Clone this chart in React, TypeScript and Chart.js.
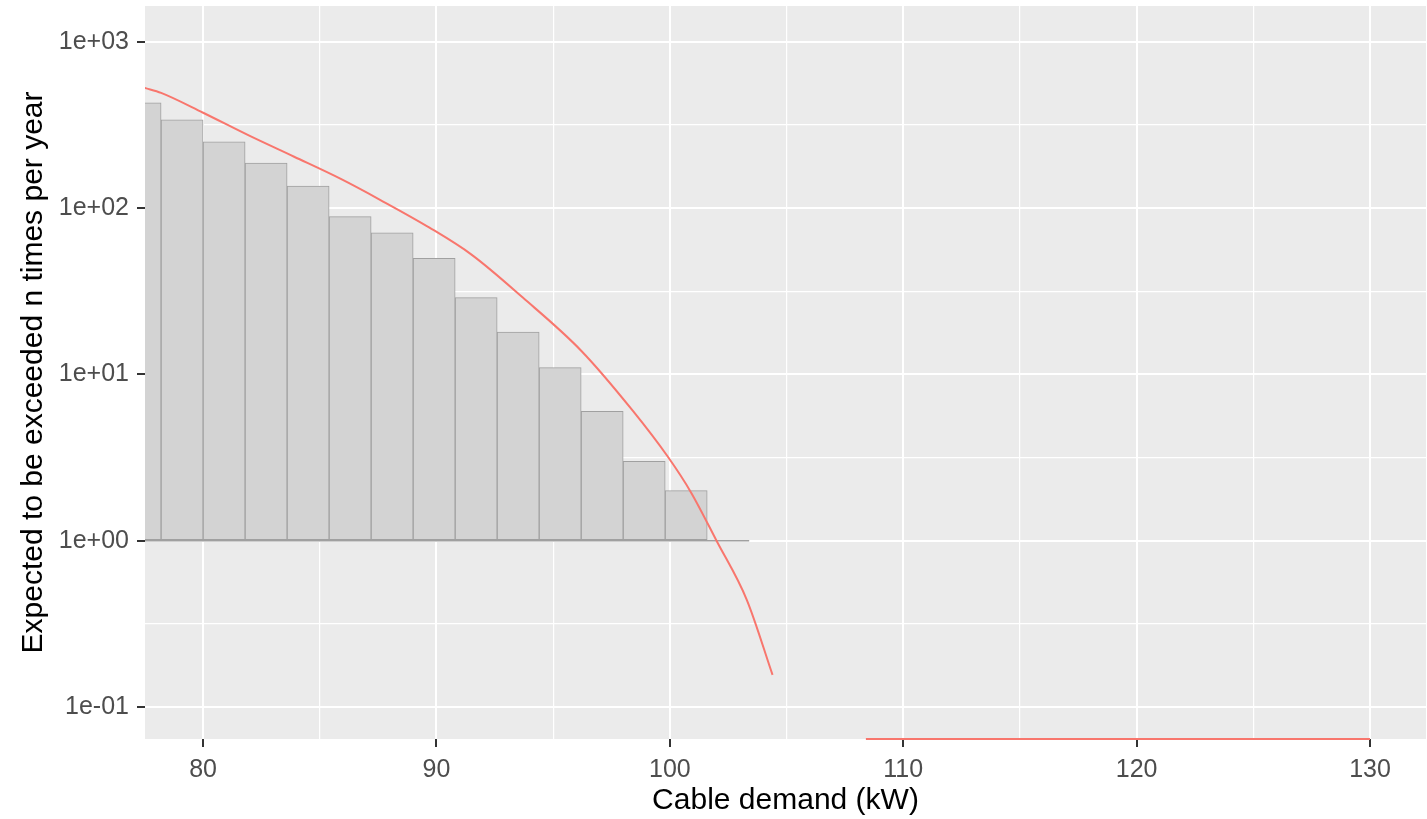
import React, { useEffect, useRef } from 'react';
import { Chart, registerables } from 'chart.js';

Chart.register(...registerables);

// Histogram bins (kW) and counts per year
const BIN_CENTERS = [77.3, 79.1, 80.9, 82.7, 84.5, 86.3, 88.1, 89.9, 91.7, 93.5, 95.3, 97.1, 98.9, 100.7, 102.5];
const BIN_COUNTS = [430, 340, 251, 187, 136, 89, 71, 50, 29, 18, 11, 6, 3, 2, 1];
const BIN_WIDTH = 1.8;

// Fitted exceedance curve (0 = -Inf on the log axis, null = gap)
const CURVE_X = [77.5, 78.2, 80.0, 82.0, 83.9, 85.9, 87.6, 89.7, 91.5, 93.7, 96.2, 98.4, 99.9, 100.9, 102.0, 103.3, 104.4, 106.4, 108.4, 130.0];
const CURVE_Y: (number | null)[] = [529, 494, 375, 272, 204, 150, 112, 76.4, 52.6, 29.0, 13.9, 6.08, 3.22, 1.96, 1.0, 0.44, 0.156, null, 0, 0];

// Axes
const X_TICKS = [80, 85, 90, 95, 100, 105, 110, 115, 120, 125, 130];
const Y_TICKS = [0.1, 0.3162, 1, 3.162, 10, 31.62, 100, 316.2, 1000];
const X_MIN = 77.51;
const X_MAX = 132.4;
const Y_MIN = 0.0642;
const Y_MAX = 1645;

const X_TITLE = 'Cable demand (kW)';
const Y_TITLE = 'Expected to be exceeded n times per year';

const FONT = "'Liberation Sans', Arial, sans-serif";

const isMajorX = (v: any) => typeof v === 'number' && Math.abs(v % 10) < 1e-9;
const isDecade = (v: any) => {
  if (typeof v !== 'number' || v <= 0) return false;
  const l = Math.log10(v);
  return Math.abs(l - Math.round(l)) < 1e-6;
};
const fmtSci = (v: number) => {
  const e = Math.round(Math.log10(v));
  return `1e${e < 0 ? '-' : '+'}${String(Math.abs(e)).padStart(2, '0')}`;
};

export default function App() {
  const ref = useRef<HTMLCanvasElement>(null);

  useEffect(() => {
    const canvas = ref.current;
    if (!canvas) return;

    const bgPlugin = {
      id: 'panelBg',
      beforeDraw(chart: any) {
        const { ctx, chartArea: a, width, height } = chart;
        ctx.save();
        ctx.fillStyle = '#FFFFFF';
        ctx.fillRect(0, 0, width, height);
        ctx.fillStyle = '#EBEBEB';
        ctx.fillRect(a.left, a.top, a.right - a.left, a.bottom - a.top);
        ctx.restore();
      },
    };

    const first = BIN_CENTERS[0] - BIN_WIDTH / 2;
    const last = BIN_CENTERS[BIN_CENTERS.length - 1] + BIN_WIDTH / 2;

    const chart = new Chart(canvas, {
      type: 'bar',
      data: {
        datasets: [
          {
            type: 'line',
            label: 'fit',
            data: CURVE_X.map((x, i) => ({ x, y: CURVE_Y[i] === 0 ? Y_MIN : CURVE_Y[i] })),
            borderColor: '#F8766D',
            borderWidth: 2,
            pointRadius: 0,
            fill: false,
            spanGaps: false,
            cubicInterpolationMode: 'monotone',
            clip: { left: 0, right: 0, top: 0, bottom: 4 },
            order: 0,
          } as any,
          {
            type: 'line',
            label: 'base',
            data: [
              { x: first, y: 1 },
              { x: last, y: 1 },
            ],
            borderColor: '#A0A0A0',
            borderWidth: 1.5,
            pointRadius: 0,
            fill: false,
            order: 1,
          } as any,
          {
            type: 'bar',
            label: 'hist',
            data: BIN_CENTERS.map((x, i) => ({ x, y: BIN_COUNTS[i] })),
            base: 1,
            backgroundColor: '#D3D3D3',
            borderColor: '#A0A0A0',
            borderWidth: 1,
            borderSkipped: false,
            barPercentage: 1,
            categoryPercentage: 1,
            order: 2,
          } as any,
        ],
      },
      options: {
        animation: false,
        responsive: true,
        maintainAspectRatio: false,
        devicePixelRatio: 1,
        layout: { padding: { top: 6, right: 1, left: 0, bottom: 0 } },
        plugins: {
          legend: { display: false },
          tooltip: { enabled: false },
        },
        scales: {
          x: {
            type: 'linear',
            min: X_MIN,
            max: X_MAX,
            offset: false,
            afterBuildTicks: (s: any) => {
              s.ticks = X_TICKS.map((v) => ({ value: v }));
            },
            afterFit: (s: any) => {
              s.height = 80;
              s.paddingLeft = 0;
              s.paddingRight = 0;
              s.paddingTop = 0;
              s.paddingBottom = 0;
            },
            grid: {
              offset: false,
              color: '#FFFFFF',
              lineWidth: (c: any) => (isMajorX(c.tick?.value) ? 2 : 1.2),
              drawTicks: true,
              tickLength: 8,
              tickWidth: 2,
              tickColor: (c: any) => (isMajorX(c.tick?.value) ? '#333333' : 'rgba(0,0,0,0)'),
            },
            border: { display: false },
            ticks: {
              autoSkip: false,
              maxRotation: 0,
              padding: 8,
              color: '#4D4D4D',
              font: { family: FONT, size: 25 },
              callback: (v: any) => (isMajorX(v) ? String(v) : ''),
            },
            title: {
              display: true,
              text: X_TITLE,
              color: '#000000',
              font: { family: FONT, size: 30 },
              padding: { top: 0, bottom: 0 },
            },
          },
          y: {
            type: 'logarithmic',
            min: Y_MIN,
            max: Y_MAX,
            afterBuildTicks: (s: any) => {
              s.ticks = Y_TICKS.map((v) => ({ value: v }));
            },
            afterFit: (s: any) => {
              s.width = 145;
              s.paddingLeft = 0;
              s.paddingRight = 0;
              s.paddingTop = 0;
              s.paddingBottom = 0;
            },
            grid: {
              color: '#FFFFFF',
              lineWidth: (c: any) => (isDecade(c.tick?.value) ? 2 : 1.2),
              drawTicks: true,
              tickLength: 8,
              tickWidth: 2,
              tickColor: (c: any) => (isDecade(c.tick?.value) ? '#333333' : 'rgba(0,0,0,0)'),
            },
            border: { display: false },
            ticks: {
              autoSkip: false,
              padding: 8,
              color: '#4D4D4D',
              font: { family: FONT, size: 25 },
              callback: (v: any) => (isDecade(Number(v)) ? fmtSci(Number(v)) : ''),
            },
            title: {
              display: true,
              text: Y_TITLE,
              color: '#000000',
              font: { family: FONT, size: 30 },
              padding: { top: 16, bottom: 0 },
            },
          },
        },
      } as any,
      plugins: [bgPlugin],
    });

    return () => chart.destroy();
  }, []);

  return (
    <div style={{ position: 'fixed', left: 0, top: 0, width: 1427, height: 819, background: '#FFFFFF' }}>
      <canvas ref={ref} />
    </div>
  );
}
